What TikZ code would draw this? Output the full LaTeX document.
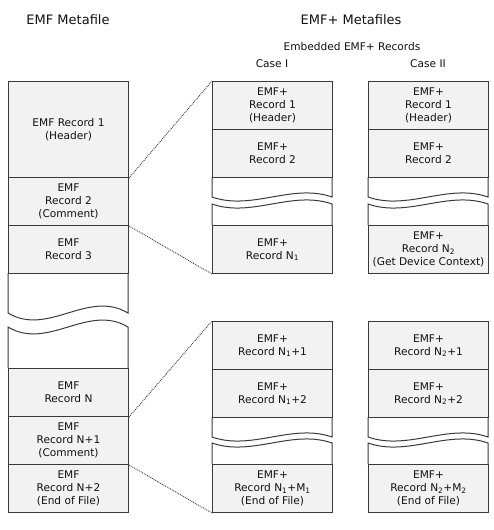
\documentclass[tikz,border=0pt]{standalone}
\usepackage{fontspec}
\setmainfont{DejaVu Sans}
\definecolor{recfill}{HTML}{F2F2F2}
\definecolor{linec}{HTML}{3A3A3A}
\definecolor{txtc}{HTML}{111111}
\newcommand{\recfont}{\fontsize{10.6}{13}\selectfont}
\newcommand{\ttlfont}{\fontsize{13}{15}\selectfont}
\begin{document}
\begin{tikzpicture}[x=1pt,y=-1pt,
  rec/.style={draw=linec, fill=recfill, line width=1pt, minimum width=120pt,
    minimum height=48pt, inner sep=0pt, align=center, font=\recfont,
    text=txtc, anchor=north west},
  tallrec/.style={rec, minimum height=96pt},
  wave/.style={draw=linec, line width=1pt},
  conn/.style={draw=linec, densely dotted, line width=0.9pt},
  ttl/.style={font=\ttlfont, text=txtc, inner sep=0pt},
  sub/.style={font=\recfont, text=txtc, inner sep=0pt}]
\useasboundingbox (0,0) rectangle (494,530);
% titles
\node[ttl] (t1) at (68,20) {EMF Metafile};
\node[ttl] (t2) at (351,20) {EMF+ Metafiles};
\node[sub] (t3) at (352,47) {Embedded EMF+ Records};
\node[sub] (t4) at (272,64) {Case I};
\node[sub] (t5) at (428,64) {Case II};
% EMF metafile column
\node[tallrec] (L1) at (8,81) {EMF Record 1\\(Header)};
\node[rec] (L2) at (8,177) {EMF\\Record 2\\(Comment)};
\node[rec] (L3) at (8,225) {EMF\\Record 3};
\draw[wave] (8,273) -- (8,313) .. controls (48,337) and (88,289) .. (128,313) -- (128,273);
\draw[wave] (8,368) -- (8,327) .. controls (48,351) and (88,303) .. (128,327) -- (128,368);
\node[rec] (LN) at (8,368) {EMF\\Record N};
\node[rec] (LN1) at (8,416) {EMF\\Record N+1\\(Comment)};
\node[rec] (LN2) at (8,464) {EMF\\Record N+2\\(End of File)};
% Case I top
\node[rec] (A1) at (212,81) {EMF+\\Record 1\\(Header)};
\node[rec] (A2) at (212,129) {EMF+\\Record 2};
\draw[wave] (212,177) -- (212,197) .. controls (252,211) and (292,183) .. (332,197) -- (332,177);
\draw[wave] (212,225) -- (212,204) .. controls (252,218) and (292,190) .. (332,204) -- (332,225);
\node[rec] (AN) at (212,225) {EMF+\\Record N\textsubscript{1}};
% Case II top
\node[rec] (B1) at (368,81) {EMF+\\Record 1\\(Header)};
\node[rec] (B2) at (368,129) {EMF+\\Record 2};
\draw[wave] (368,177) -- (368,197) .. controls (408,211) and (448,183) .. (488,197) -- (488,177);
\draw[wave] (368,225) -- (368,204) .. controls (408,218) and (448,190) .. (488,204) -- (488,225);
\node[rec] (BN) at (368,225) {EMF+\\Record N\textsubscript{2}\\(Get Device Context)};
% Case I bottom
\node[rec] (C1) at (212,321) {EMF+\\Record N\textsubscript{1}+1};
\node[rec] (C2) at (212,369) {EMF+\\Record N\textsubscript{1}+2};
\draw[wave] (212,417) -- (212,437) .. controls (252,451) and (292,423) .. (332,437) -- (332,417);
\draw[wave] (212,464) -- (212,443) .. controls (252,457) and (292,429) .. (332,443) -- (332,464);
\node[rec] (CN) at (212,464) {EMF+\\Record N\textsubscript{1}+M\textsubscript{1}\\(End of File)};
% Case II bottom
\node[rec] (D1) at (368,321) {EMF+\\Record N\textsubscript{2}+1};
\node[rec] (D2) at (368,369) {EMF+\\Record N\textsubscript{2}+2};
\draw[wave] (368,417) -- (368,437) .. controls (408,451) and (448,423) .. (488,437) -- (488,417);
\draw[wave] (368,464) -- (368,443) .. controls (408,457) and (448,429) .. (488,443) -- (488,464);
\node[rec] (DN) at (368,464) {EMF+\\Record N\textsubscript{2}+M\textsubscript{2}\\(End of File)};
% dotted connectors
\draw[conn] (L1.south east) -- (A1.north west);
\draw[conn] (L2.south east) -- (AN.south west);
\draw[conn] (LN.south east) -- (C1.north west);
\draw[conn] (LN1.south east) -- (CN.south west);
\end{tikzpicture}
\end{document}
